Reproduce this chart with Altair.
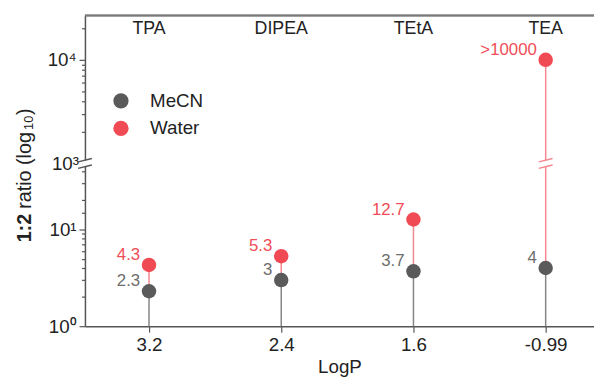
import math
import altair as alt
import pandas as pd

# ---------------- data ----------------
logp = ["3.2", "2.4", "1.6", "-0.99"]
amines = ["TPA", "DIPEA", "TEtA", "TEA"]
mecn = [2.3, 3.0, 3.7, 4.0]
water = [4.3, 5.3, 12.7, 10000]
mecn_labels = ["2.3", "3", "3.7", "4"]
water_labels = ["4.3", "5.3", "12.7", ">10000"]
series = ["MeCN", "Water"]

# ---------------- broken-axis geometry (display units) ----------------
B = 165 / 98      # where the break sits (10^3 on the upper segment)
K = 105 / 98      # relative size of a decade on the upper segment
TOP = 315 / 98    # top of the plot


def pos(v):
    lv = math.log10(v)
    return lv if v < 100 else B + (lv - 3) * K


POS_EXPR = "datum.{f} < 100 ? log(datum.{f})/LN10 : %r + (log(datum.{f})/LN10 - 3) * %r" % (B, K)

lower_ticks = [1, 2, 3, 4, 5, 6, 7, 8, 9, 10, 15, 20, 30, 40]
upper_ticks = [1000, 2000, 3000, 4000, 5000, 6000, 7000, 8000, 9000, 10000, 20000]
tick_vals = [round(pos(v), 5) for v in lower_ticks] + [round(pos(v), 5) for v in upper_ticks]

p0, p1, p3, p4 = (round(pos(v), 5) for v in (1, 10, 1000, 10000))


def near(a):
    return "abs(datum.value - %r) < 0.001" % a


label_expr = (
    f"{near(p0)} ? '10⁰' : {near(p1)} ? '10¹' : {near(p3)} ? '10³' : {near(p4)} ? '10⁴' : ''"
)
major_test = f"{near(p0)} || {near(p1)} || {near(p4)}"

FONT = "Liberation Sans"
GRAY = "#5a5a5a"
RED = "#f04b55"
GRAY_STEM = "#858585"
RED_STEM = "#f5878e"
GRAY_TXT = "#6e6e6e"
RED_TXT = "#ef4d57"
AX = "#555555"

W, H = 516, 315

wide = pd.DataFrame({
    "logp": logp, "amine": amines, "mecn": mecn, "water": water,
    "mlab": mecn_labels, "wlab": water_labels,
})
wide["one"] = 1.0
wide["brk"] = 1000.0   # the axis break sits at 10^3

long = pd.DataFrame({
    "logp": logp * 2,
    "series": [series[0]] * 4 + [series[1]] * 4,
    "v": mecn + water,
})

yscale = alt.Scale(domain=[0, TOP], nice=False, zero=False)
yaxis = alt.Axis(
    values=tick_vals, labelExpr=label_expr, labelOverlap=False,
    tickSize={"condition": {"test": major_test, "value": 6}, "value": 3.5},
    tickColor=AX,
    title=None, grid=False,
    domainColor=AX, domainWidth=1.5, tickWidth=1.2,
    labelFontSize=19, labelColor="#222", labelFont=FONT, labelPadding=3,
)
xscale = alt.Scale(type="point", domain=logp, padding=0.425, align=0.57)
xaxis = alt.Axis(
    title="LogP", labelAngle=0, labelFontSize=19, labelFont=FONT, labelColor="#222",
    titleFontSize=19, titleFont=FONT, titleFontWeight="normal", titleColor="#222",
    tickSize=6, tickColor=AX, tickWidth=1.2, domainColor=AX, domainWidth=1.5,
    labelPadding=4, titlePadding=3, grid=False,
)


def X():
    return alt.X("logp:N", scale=xscale, axis=xaxis, sort=logp)


def Y(field):
    return alt.Y(field, type="quantitative", scale=yscale, axis=yaxis)


base = alt.Chart(wide).transform_calculate(
    mp=POS_EXPR.format(f="mecn"),
    wp=POS_EXPR.format(f="water"),
    zp=POS_EXPR.format(f="one"),
    bp=POS_EXPR.format(f="brk"),
)
tea = base.transform_filter(alt.datum.water > 100)

gray_stem = base.mark_rule(color=GRAY_STEM, strokeWidth=1.5).encode(
    x=X(), y=Y("zp"), y2="mp:Q")
red_stem = base.mark_rule(color=RED_STEM, strokeWidth=1.5).encode(
    x=X(), y=Y("mp"), y2="wp:Q")

SLASH = "M-1,-0.23L1,-0.71M-1,0.71L1,0.23"
GAP = "M-0.4,-0.42L0.4,-0.42L0.4,0.42L-0.4,0.42Z"

stem_gap = tea.mark_point(
    shape=GAP, size=196, filled=True, color="white", opacity=1, strokeWidth=0
).encode(x=X(), y=Y("bp"))
stem_slash = tea.mark_point(
    shape=SLASH, size=196, filled=False, color=RED_STEM, opacity=1, strokeWidth=1.4
).encode(x=X(), y=Y("bp"))

points = alt.Chart(long).transform_calculate(
    p=POS_EXPR.format(f="v")
).mark_circle(size=215, opacity=1).encode(
    x=X(), y=Y("p"),
    color=alt.Color(
        "series:N",
        scale=alt.Scale(domain=series, range=[GRAY, RED]),
        legend=alt.Legend(
            title=None, orient="none", legendX=27, legendY=77, symbolSize=240,
            symbolType="circle", labelFontSize=19, labelFont=FONT, labelColor="#222",
            labelOffset=20, rowPadding=8, padding=0, symbolStrokeWidth=0,
        ),
    ),
)

gray_txt = base.mark_text(
    align="right", baseline="alphabetic", dx=-9, dy=-5, fontSize=17, font=FONT, color=GRAY_TXT
).encode(x=X(), y=Y("mp"), text="mlab:N")
red_txt = base.mark_text(
    align="right", baseline="alphabetic", dx=-9, dy=-5, fontSize=17, font=FONT, color=RED_TXT
).encode(x=X(), y=Y("wp"), text="wlab:N")

top_txt = alt.Chart(wide).mark_text(
    fontSize=18, font=FONT, color="#222", baseline="middle"
).encode(x=X(), y=alt.value(14), text="amine:N")

top_border = alt.Chart(wide).mark_rule(color="#7a7a7a", strokeWidth=1.5).encode(
    x=alt.value(0), x2=alt.value(W), y=alt.value(0))

axis_gap = tea.mark_point(
    shape=GAP, size=196, filled=True, color="white", opacity=1, strokeWidth=0
).encode(x=alt.value(0), y=Y("bp"))
axis_slash = tea.mark_point(
    shape=SLASH, size=196, filled=False, color=AX, opacity=1, strokeWidth=1.4
).encode(x=alt.value(0), y=Y("bp"))

# y-axis title: bold "1:2", normal text, subscript "10"
TX = -61
one = alt.Chart(wide).transform_filter(alt.datum.water > 100)
t1 = one.mark_text(
    angle=270, align="left", baseline="middle", fontSize=20, fontWeight="bold", font=FONT, color="#222"
).encode(x=alt.value(TX), y=alt.value(230), text=alt.value("1:2"))
t2 = one.mark_text(
    angle=270, align="left", baseline="middle", fontSize=20, font=FONT, color="#222"
).encode(x=alt.value(TX), y=alt.value(196), text=alt.value("ratio (log"))
t3 = one.mark_text(
    angle=270, align="left", baseline="middle", fontSize=13, font=FONT, color="#222"
).encode(x=alt.value(TX + 4), y=alt.value(116), text=alt.value("10"))
t4 = one.mark_text(
    angle=270, align="left", baseline="middle", fontSize=20, font=FONT, color="#222"
).encode(x=alt.value(TX), y=alt.value(101), text=alt.value(")"))

chart = alt.layer(
    gray_stem, top_border, red_stem, stem_gap, stem_slash, points,
    gray_txt, red_txt, top_txt, axis_gap, axis_slash, t1, t2, t3, t4,
).properties(
    width=W, height=H,
    autosize=alt.AutoSizeParams(type="none"),
    padding={"left": 78, "top": 5, "right": 0, "bottom": 55},
).configure_view(stroke=None)

chart.save("out.html", embed_options={"renderer": "svg", "actions": False})
